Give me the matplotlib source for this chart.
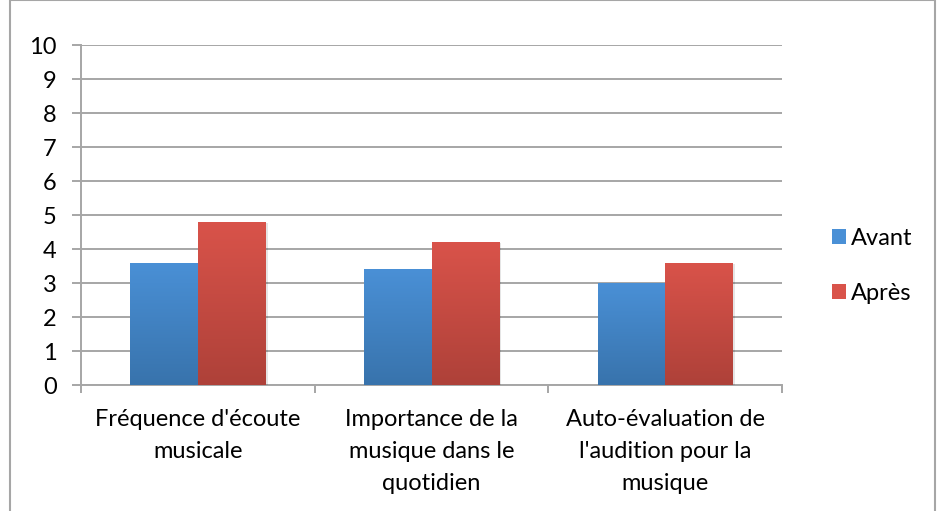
import numpy as np
import matplotlib.pyplot as plt
from matplotlib.patches import Rectangle, Patch
from matplotlib.colors import LinearSegmentedColormap

plt.rcParams['font.family'] = ['Lato', 'DejaVu Sans']

categories = ["Fréquence d'écoute\nmusicale",
              "Importance de la\nmusique dans le\nquotidien",
              "Auto-évaluation de\nl'audition pour la\nmusique"]
avant = [3.6, 3.4, 3.0]
apres = [4.8, 4.2, 3.6]
series_names = ['Avant', 'Après']
yticks = list(range(0, 11))

blue_top, blue_bot = '#4A90D6', '#3873AC'
red_top, red_bot = '#D9534A', '#AE4139'


def gradient_bars(ax, bars, top, bot):
    cmap = LinearSegmentedColormap.from_list('g', [bot, top])
    grad = np.linspace(0, 1, 256).reshape(-1, 1)
    for b in bars:
        x, y = b.get_x(), b.get_y()
        w, h = b.get_width(), b.get_height()
        # soft shadow
        sh = Rectangle((x + 0.01, y), w, h - 0.03, facecolor='#000000',
                       alpha=0.10, edgecolor='none', zorder=2)
        ax.add_patch(sh)
        im = ax.imshow(grad, cmap=cmap, origin='lower', aspect='auto',
                       extent=(x, x + w, y, y + h), zorder=3)
        im.set_clip_path(b)
        b.set_facecolor('none')


fig = plt.figure(figsize=(9.4, 5.11), dpi=100)
ax = fig.add_axes([81 / 940, 1 - 385 / 511, 701 / 940, 340 / 511])

x = np.arange(len(categories))
w = 0.289
b1 = ax.bar(x - w / 2, avant, w, color=blue_top, zorder=3, linewidth=0)
b2 = ax.bar(x + w / 2, apres, w, color=red_top, zorder=3, linewidth=0)
gradient_bars(ax, b1, blue_top, blue_bot)
gradient_bars(ax, b2, red_top, red_bot)

ax.set_xlim(-0.5, 2.5)
ax.set_ylim(0, 10)
ax.set_yticks(yticks)
ax.set_yticklabels([str(t) for t in yticks], fontsize=17)
ax.yaxis.grid(True, color='#A6A6A6', linewidth=1.4, zorder=0)
ax.set_axisbelow(True)

for s in ['top', 'right']:
    ax.spines[s].set_visible(False)
for s in ['left', 'bottom']:
    ax.spines[s].set_color('#A6A6A6')
    ax.spines[s].set_linewidth(1.4)
    ax.spines[s].set_zorder(1)

ax.tick_params(axis='y', length=6.5, width=1.4, color='#A6A6A6', pad=11)
ax.set_xticks([-0.5, 0.5, 1.5, 2.5])
ax.set_xticklabels([])
ax.tick_params(axis='x', length=6, width=1.4, color='#A6A6A6')
for i, c in enumerate(categories):
    ax.text(i, -0.72, c, ha='center', va='top', fontsize=17,
            linespacing=1.62, transform=ax.transData)

handles = [Patch(facecolor=blue_top, edgecolor='none'),
           Patch(facecolor=red_top, edgecolor='none')]
fig.legend(handles, series_names, loc='center left',
           bbox_to_anchor=(811 / 940, 1 - 266 / 511), frameon=False,
           fontsize=17, handlelength=0.6, handleheight=0.6,
           handletextpad=0.2, labelspacing=1.45)

fig.add_artist(Rectangle((10 / 940, -5 / 511), 925 / 940, 516 / 511,
                         transform=fig.transFigure, fill=False,
                         edgecolor='#A6A6A6', linewidth=1.5))

fig.savefig('out.png', dpi=100)
